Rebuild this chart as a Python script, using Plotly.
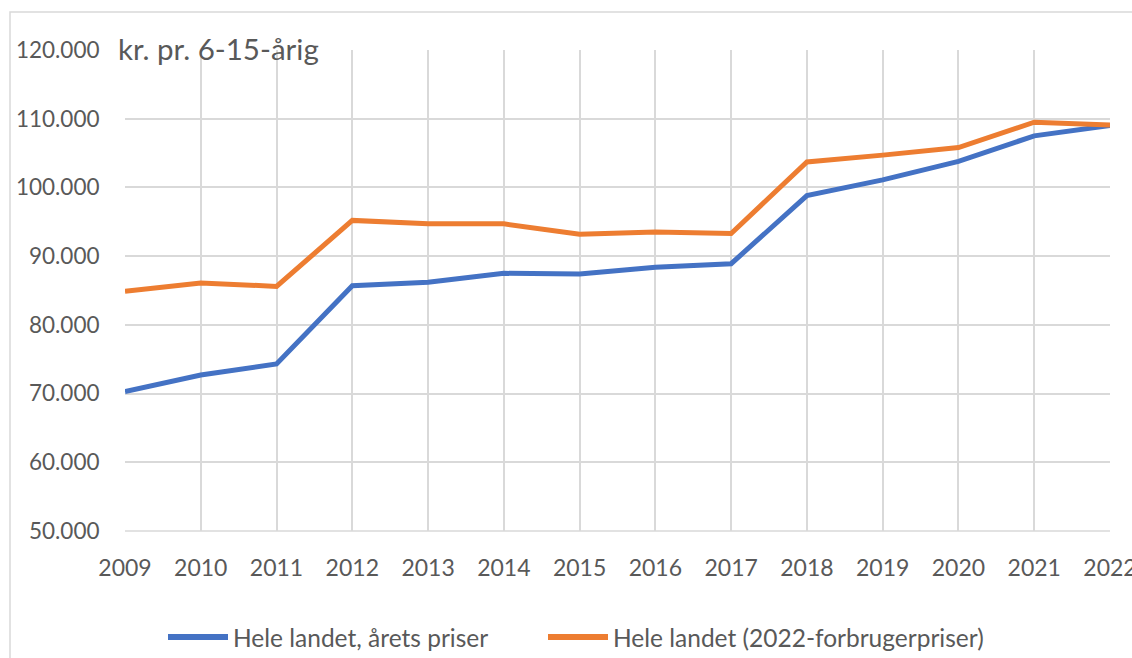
import plotly.graph_objects as go

years = [str(y) for y in range(2009, 2023)]
blue_vals = [70300, 72700, 74300, 85700, 86200, 87500, 87400, 88400, 88900, 98800, 101100, 103800, 107500, 109000]
orange_vals = [84900, 86100, 85600, 95200, 94700, 94700, 93200, 93500, 93300, 103700, 104700, 105800, 109500, 109100]
y_ticks = list(range(50000, 120001, 10000))
name_blue = "Hele landet, årets priser"
name_orange = "Hele landet (2022-forbrugerpriser)"
y_title = "kr. pr. 6-15-årig"

W, H = 1132, 658
L, R, T, B = 125, 22, 50, 127
pw, ph = W - L - R, H - T - B
FONT = "Lato, 'Open Sans', sans-serif"
TXT = "#595959"
GRID = "#d9d9d9"
BLUE, ORANGE = "#4472C4", "#ED7D31"


def px(x):
    return (x - L) / pw


def py(y):
    return (H - B - y) / ph


fig = go.Figure()
fig.add_trace(go.Scatter(x=list(range(len(years))), y=blue_vals, mode="lines", name=name_blue,
                         line=dict(color=BLUE, width=5)))
fig.add_trace(go.Scatter(x=list(range(len(years))), y=orange_vals, mode="lines", name=name_orange,
                         line=dict(color=ORANGE, width=5)))

fig.update_layout(
    width=W, height=H,
    margin=dict(l=L, r=R, t=T, b=B, autoexpand=False),
    paper_bgcolor="white", plot_bgcolor="white",
    separators=",.",
    font=dict(family=FONT, size=23, color=TXT),
    xaxis=dict(range=[0, len(years) - 1], tickmode="array", tickvals=list(range(len(years))),
               ticktext=years, showgrid=True, gridcolor=GRID, gridwidth=1.5, automargin=False,
               ticklabeloverflow="allow",
               showline=False, zeroline=False, ticks="outside", ticklen=16, tickcolor="rgba(0,0,0,0)",
               tickfont=dict(family=FONT, size=23, color=TXT)),
    yaxis=dict(range=[50000, 120000], tickmode="array", tickvals=y_ticks, tickformat=",d",
               showgrid=True, gridcolor=GRID, gridwidth=1.5, zeroline=False, showline=False,
               automargin=False,
               ticks="outside", ticklen=20, tickcolor="rgba(0,0,0,0)",
               tickfont=dict(family=FONT, size=22.5, color=TXT)),
    showlegend=False,
)

# bottom axis line at 50.000 (gridline style)
fig.add_shape(type="line", xref="paper", yref="paper", x0=0, x1=1, y0=0, y1=0,
              line=dict(color=GRID, width=1.5), layer="below")

# chart frame
fig.add_shape(type="rect", xref="paper", yref="paper",
              x0=px(10), x1=px(W + 30), y0=py(H + 30), y1=py(12),
              line=dict(color=GRID, width=1.5), layer="below")

fig.add_annotation(text=y_title, xref="paper", yref="paper", x=px(116), xanchor="left",
                   y=py(48), yanchor="middle", showarrow=False,
                   font=dict(family=FONT, size=29.5, color=TXT))

# legend (line sample + label)
LEG_Y = 637
for x0, color, label in [(168, BLUE, name_blue), (548, ORANGE, name_orange)]:
    fig.add_shape(type="line", xref="paper", yref="paper", x0=px(x0), x1=px(x0 + 60),
                  y0=py(LEG_Y), y1=py(LEG_Y), line=dict(color=color, width=6))
    fig.add_annotation(text=label, xref="paper", yref="paper", x=px(x0 + 63), xanchor="left",
                       y=py(LEG_Y), yanchor="middle", showarrow=False,
                       font=dict(family=FONT, size=24.5, color=TXT))

fig.write_html("out.html", config={"displayModeBar": False},
               post_script="document.body.style.margin='0';document.body.style.overflow='hidden';")
